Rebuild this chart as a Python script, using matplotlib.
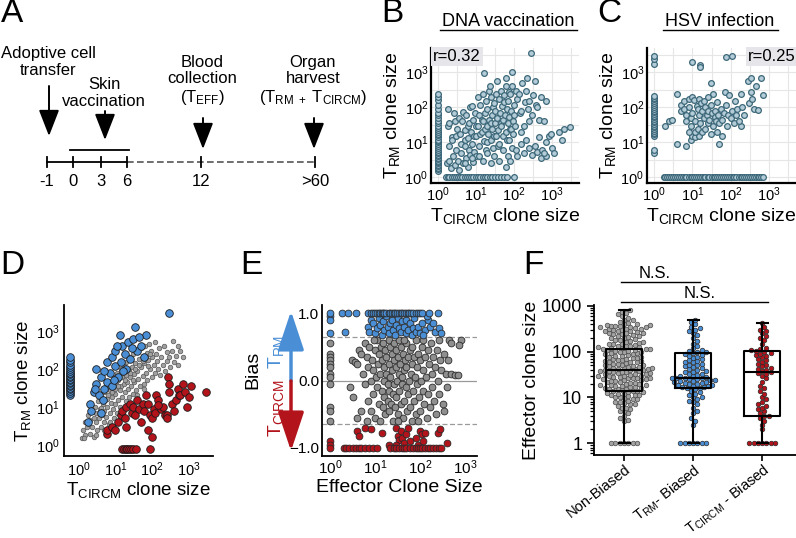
import matplotlib
matplotlib.use('Agg')
import matplotlib.pyplot as plt
import numpy as np
from matplotlib.ticker import FixedLocator, NullFormatter, LogLocator

plt.rcParams['font.family'] = ['Liberation Sans', 'DejaVu Sans']
plt.rcParams['mathtext.fontset'] = 'custom'
plt.rcParams['mathtext.rm'] = 'Liberation Sans'
plt.rcParams['mathtext.it'] = 'Liberation Sans:italic'
plt.rcParams['mathtext.bf'] = 'Liberation Sans:bold'

W, H = 796, 538

# ---------------- data ----------------
# A: timeline
timeline_labels = ['-1', '0', '3', '6', '12', '>60']

# B: DNA vaccination, (T_CIRCM, T_RM) clone sizes
b_pairs = [(1.7,2.5),(1.8,30),(1.9,90),(2,3),(2,8),(2,35),(2.2,1.8),(2.3,14),(2.4,12),(2.5,4),(2.6,70),
           (2.8,2.2),(2.8,40),(3,6),(3,15),(3.2,25),(3.3,3),(3.5,50),(3.6,1.6),(3.8,18),(4,5),(4,9),(4.2,40),
           (4.5,2.6),(4.6,75),(5,8),(5,22),(5.2,12),(5.5,3.5),(5.5,60),(6,2),(6,13),(6.2,30),(6.5,6),(6.5,35),
           (7,4.5),(7,100),(7.5,20),(8,9),(8,110),(8.5,2.8),(8.5,45),(9,5.5),(9,15),(9.5,70),(10,15),(10,4),
           (10,30),(11,30),(11,200),(12,8),(12,60),(13,120),(13,18),(14,20),(14,45),(15,250),(15,40),(16,11),
           (16,950),(17,70),(17,25),(18,6),(18,150),(19,30),(20,90),(20,10),(21,18),(22,45),(22,300),(23,400),
           (24,12),(25,200),(25,35),(26,60),(27,25),(28,7),(28,100),(30,130),(30,15),(31,35),(32,80),(33,250),
           (34,15),(35,580),(36,50),(38,22),(38,8),(40,180),(40,9),(42,70),(44,35),(45,30),(46,300),(48,110),
           (50,15),(52,45),(54,140),(55,220),(58,60),(60,20),(60,400),(62,700),(65,90),(66,12),(68,35),(70,150),
           (72,12),(74,280),(75,55),(78,25),(80,250),(82,25),(85,80),(88,1000),(90,400),(92,18),(95,40),(100,120),
           (100,60),(105,30),(110,300),(120,180),(130,250),(140,70),(150,80),(160,500),(180,30),(190,140),
           (200,300),(220,700),(230,90),(250,150),(280,3600),(300,60),(320,220),(350,580),(380,120),(400,100),
           (450,45),(500,200),(600,40),(700,150),(150,20),(250,40),(5,2.5),(8,3.5),(12,4),(15,3),(20,5),(25,2.5),
           (30,4),(40,3),(50,6),(60,2),(70,4),(80,3),(90,7),(110,6),(120,4),(150,9),(180,5),(200,12),(250,7),
           (300,4.5),(350,8),(400,5.5),(500,3.5),(550,6),(700,10),(800,15),(1000,7),(1100,5),(1500,20),(1800,12),
           (2000,25),(3000,28),(700,4),(450,14),(900,18),(600,5)]
b_col_rm = [1.5,1.7,1.9,2.1,2.3,2.5,2.8,3,3.3,3.7,4,4.5,5,5.5,6,7,8,9,10,11,12,14,16,18,20,23,26,30,35,40,
            50,60,70,90,120,160,200,250]
b_row_circm = [1.6,1.8,2,2.3,2.6,3,3.4,3.8,4.3,5,5.7,6.5,7.5,8.5,10,11.5,13,15,17,20,23,27,32,38,45,55,65,100]
b_r = 'r=0.32'

# C: HSV infection
c_pairs = [(4,9),(7,8),(9,12),(10,15),(50,9),(12,14),(15,15),(2,30),(2.5,40),(3,45),(4,250),(5,120),(5,80),
           (6,150),(6,90),(7,60),(7,40),(8,180),(8,100),(9,50),(9,30),(10,2000),(10,200),(10,70),(11,160),(12,40),
           (12,20),(13,110),(14,25),(14,90),(15,170),(15,60),(16,1600),(16,1400),(16,35),(17,130),(18,20),(18,80),
           (20,150),(20,50),(22,25),(22,100),(24,60),(25,35),(26,80),(28,45),(30,500),(30,120),(32,70),(35,30),
           (35,250),(38,55),(40,80),(42,40),(45,140),(48,60),(50,35),(55,90),(60,45),(65,70),(70,280),(75,2800),
           (75,120),(80,30),(85,60),(90,220),(100,50),(110,3000),(110,80),(120,35),(130,150),(150,90),(180,30),
           (200,100),(220,60),(280,560),(300,130),(330,700),(330,270),(350,180),(400,90),(450,400),(500,85),
           (600,700),(700,220),(180,240),(160,40),(140,60),(25,200),(30,18),(45,20),(8,20),(60,15)]
c_col_rm = [5,6,15,17,19,21,24,27,30,34,38,42,47,52,58,65,72,80,90,100,115,130,150,170,190,210,1800,2500,3000]
c_row_circm = [1.8,2,2.2,2.5,2.8,3.1,3.5,4,4.5,5,5.6,6.3,7,8,9,10,11,12.5,14,16,18,20,22,25,28,32,36,40,45,
               50,56,63,70,80,90,100,112,125,140,160,180,200,225,250,280,320,360,400,450,500,560,630,700]
c_r = 'r=0.25'

# D: clones coloured by bias
d_blue = [(2.5,25),(2,12),(2.2,8),(1.8,4),(3,40),(3.5,20),(4,60),(4.5,15),(3,100),(5,30),(6,150),(6,45),
          (7,80),(8,200),(8,35),(10,120),(10,300),(12,60),(13,800),(14,150),(15,400),(18,250),(20,100),
          (22,500),(25,180),(30,600),(34,1300),(40,300),(50,400),(60,200),(70,800),(300,3000),(4,7),(2.8,30),
          (5,90),(9,50),(11,400),(16,90),(28,350),(45,700)]
d_blue_col = [20,23,26,29,32,35,38,42,46,50,55,60,66,72,80,90,100,115,130,150,175,200]
d_gray = [(1.2,1.5),(1.3,2.5),(1.5,4),(1.5,1.8),(1.7,3),(1.8,6),(2,2),(2,4.5),(2.2,8),(2.3,3),(2.5,5),
          (2.6,1.6),(2.8,10),(3,4),(3,7),(3.2,2.5),(3.4,14),(3.5,5),(3.8,9),(4,3),(4,18),(4.2,6),(4.5,12),
          (4.8,4),(5,8),(5,25),(5.3,15),(5.6,5.5),(6,10),(6,35),(6.3,20),(6.5,3.5),(7,7),(7,28),(7.5,13),
          (8,45),(8,18),(8.5,9),(9,30),(9,5),(9.5,60),(10,12),(10,22),(10.5,40),(11,7),(11,80),(12,15),(12,50),
          (13,28),(13,10),(14,100),(14,35),(15,18),(15,60),(16,9),(17,120),(17,40),(18,25),(19,70),(20,14),
          (20,150),(21,45),(22,30),(23,90),(24,18),(25,200),(25,60),(27,35),(28,110),(30,22),(30,250),(32,75),
          (33,45),(35,140),(36,28),(38,300),(40,90),(42,55),(45,180),(47,35),(50,350),(50,110),(55,65),(58,220),
          (60,40),(62,140),(65,400),(70,80),(72,260),(75,50),(80,170),(85,450),(90,100),(95,300),(100,60),
          (100,200),(110,130),(120,500),(120,80),(130,250),(140,160),(150,100),(160,350),(170,70),(180,200),
          (200,130),(210,400),(230,90),(250,280),(260,160),(300,200),(320,110),(350,300),(400,150),(450,220),
          (500,130),(600,300),(700,200),(370,550),(500,400),(3,1.8),(5,2.5),(7,4),(1.4,1.5),(2,12),(4,9.5),
          (6,16),(8,25),(10,30),(12,35),(18,50),(25,80),(35,100),(45,130),(55,160),(70,200),(80,120),(90,250),
          (40,20),(60,30),(30,50)]
d_red = [(6,2),(100,1.6),(6,2.5),(8,3),(10,2.5),(12,4),(14,6),(15,8),(18,5),(20,3),(20,10),(25,12),(28,7),
         (30,10),(35,6),(40,15),(45,9),(50,4),(55,12),(60,8),(70,20),(80,12),(90,6),(100,5),(110,9),(120,7),
         (130,20),(150,15),(180,9),(200,10),(220,6),(250,6),(280,60),(300,40),(300,25),(350,12),(400,8),
         (450,15),(500,30),(550,20),(600,20),(700,40),(800,25),(900,10),(1000,18),(1200,35),(3000,25),
         (250,5),(150,11),(80,2.5)]
d_red_row = [15,17,19,21,24,27,31,36,90]

# E: bias vs effector clone size
e_blue_top = [1,1.8,2.5,3.8,7,8,9,10,11,12,13,14,15,16,18,20,22,24,26,28,31,34,37,40,44,48,53,58,64,70,80,
              90,100,110,160,250]
e_blue = [(1,0.95),(1,0.9),(1,0.7),(2.2,0.72),(7,0.8),(7.5,0.72),(8,0.9),(9,0.85),(10,0.7),(11,0.78),
          (12,0.92),(13,0.82),(14,0.68),(15,0.88),(16,0.75),(18,0.95),(19,0.8),(20,0.7),(22,0.85),(24,0.9),
          (25,0.75),(28,0.68),(30,0.82),(32,0.93),(35,0.78),(38,0.72),(40,0.88),(45,0.8),(48,0.7),(50,0.9),
          (55,0.75),(60,0.85),(65,0.68),(70,0.78),(75,0.92),(80,0.72),(90,0.8),(100,0.7),(110,0.85),(130,0.75),
          (150,0.9),(170,0.8),(200,0.85),(220,0.72),(260,0.78),(300,0.7),(140,0.95),(120,0.68)]
e_gray = [(1,0.55),(1,0.4),(1,0.35),(1,0.3),(1,0.25),(1,0.2),(1,0.1),(1,0.05),(1,-0.05),(1,-0.4),(1,-0.45),
          (1,-0.6),(3,0.3),(3.5,0.28),(4,0.25),(2.8,-0.1),(3.3,-0.25),(4.5,0.45),(5,0.4),(5.5,0.1),(6,-0.05),
          (6,0.55),(6.5,0.35),(7,0.2),(7,-0.3),(7.5,0.5),(8,0.0),(8,-0.45),(8.5,0.3),(9,0.15),(9,-0.2),
          (10,0.45),(10,-0.55),(10.5,0.05),(11,0.6),(11,-0.1),(11.5,0.25),(12,-0.35),(12,0.4),(13,0.1),
          (13,-0.6),(13.5,0.5),(14,-0.15),(14,0.3),(15,0.55),(15,-0.4),(15.5,0.0),(16,0.2),(16,-0.25),
          (17,0.45),(17,-0.5),(18,0.1),(18,0.35),(19,-0.05),(19,-0.3),(20,0.6),(20,0.25),(21,-0.15),(21,-0.45),
          (22,0.5),(22,0.05),(23,-0.35),(24,0.4),(24,0.15),(25,-0.2),(25,-0.6),(26,0.3),(27,0.55),(27,-0.05),
          (28,-0.4),(29,0.2),(30,0.45),(30,-0.25),(31,0.0),(32,0.35),(33,-0.5),(34,0.1),(35,0.6),(35,-0.15),
          (36,0.25),(38,-0.35),(38,0.5),(40,0.05),(40,-0.05),(42,0.4),(42,-0.55),(44,0.15),(45,-0.3),(46,0.3),
          (48,-0.1),(50,0.55),(50,0.2),(52,-0.45),(55,0.35),(55,-0.2),(58,0.0),(60,0.45),(60,-0.4),(62,0.1),
          (65,-0.6),(65,0.25),(68,0.5),(70,-0.15),(72,0.35),(75,-0.3),(78,0.05),(80,0.6),(80,-0.5),(85,0.2),
          (88,-0.05),(90,0.4),(95,-0.25),(100,0.3),(100,-0.45),(105,0.0),(110,0.5),(115,-0.15),(120,0.15),
          (125,-0.35),(130,0.35),(135,0.05),(140,-0.55),(150,0.45),(155,-0.2),(160,0.25),(170,-0.4),(180,0.55),
          (185,0.1),(190,-0.1),(200,0.35),(210,-0.3),(220,0.2),(230,-0.5),(240,0.45),(250,0.0),(260,-0.2),
          (280,0.3),(300,0.15),(320,-0.35),(350,0.4),(380,0.1),(400,-0.1),(420,0.3),(450,0.6),(480,0.55),
          (500,0.1),(600,0.08),(700,0.08),(350,-0.45),(260,0.6),(5,-0.45),(4,-0.55),(6.5,-0.6),(9.5,0.6),
          (32,-0.6),(45,0.6),(120,0.6),(90,-0.6),(800,0.6),(750,0.52)]
e_red_bottom = [1,2,2.3,2.7,3.2,3.7,4.3,5,6,7.5,9,11,22,26,30,35,40,45,50,60,70,80,90,100,110,130,150,170,
                200,230,260,300]
e_red = [(1,-0.9),(1,-0.95),(4,-0.75),(4.5,-0.82),(6,-0.7),(8,-0.72),(14,-0.78),(30,-0.7),(32,-0.82),
         (35,-0.88),(38,-0.75),(40,-0.85),(45,-0.92),(50,-0.8),(55,-0.7),(60,-0.9),(80,-0.85),(90,-0.95),
         (100,-0.75),(110,-0.8),(120,-0.9),(130,-0.78),(250,-0.78),(280,-0.72),(400,-0.92),(30,-0.95),(20,-0.95)]

# F: effector clone size by bias group
f_groups = ['Non-Biased', r'T$_{\mathrm{RM}}$- Biased', r'T$_{\mathrm{CIRCM}}$ - Biased']
f_nonbiased = [1]*7 + [3,3.2,3.5,4,4.5,5,5,5.5,6,6,6.5,7,7,7.5,8,8,8.5,9,9,9.5,10,10,10.5,11,11,11.5,12,12,
               12.5,13,13,13.5,14,14,14.5,15,15,15.5,16,16,17,17,18,18,18.5,19,19,20,20,21,21,22,22,23,23,24,
               24,25,25,26,26,27,27,28,28,29,29,30,30,31,32,32,33,34,34,35,36,36,37,38,38,39,40,40,41,42,42,
               43,44,45,46,47,48,49,50,50,52,53,55,56,58,59,60,62,63,65,67,68,70,72,74,76,78,80,82,85,87,90,
               92,95,98,100,100,105,108,110,112,115,118,120,125,130,135,140,145,150,155,160,170,180,190,200,
               210,220,230,240,250,260,270,280,290,300,310,320,330,340,350,360,370,380,400,420,450,480,500,
               550,600,650,700,750,800,
               105,115,125,135,150,165,180,200,220,240,260,280,300,320,340,360,380,400]
f_rm = [1]*7 + [2.5,3,3.5,4.5,5,6,7,8,8.5,9,10,10,11,12,13,14,15,16,16,17,17,18,18,19,19,20,20,21,21,22,22,
                23,23,24,24,25,25,26,26,27,27,28,29,30,31,32,33,35,36,38,40,42,44,46,48,50,52,55,58,60,63,66,
                70,74,78,82,86,90,95,100,100,105,110,120,130,150,170,200,230,250,280,300,330,350,400,450,500]
f_circm = [1]*7 + [2,2.5,3,3.5,4,4,4.5,5,5.5,6,6.5,7,8,9,10,12,14,16,18,22,26,30,32,34,36,38,40,42,45,48,50,
                   55,60,65,70,75,80,85,90,95,100,105,110,115,120,150,180,200,220,250,280,300,350,420]
# box stats: whisker low, q1, median, q3, whisker high
f_box_lo = [1, 1, 1]
f_box_q1 = [14, 16, 4]
f_box_med = [40, 27, 35]
f_box_q3 = [115, 92, 105]
f_box_hi = [800, 500, 420]

BLUE = '#4a8fd6'
RED = '#b3131b'
GRAY = '#8f8f8f'
TEAL_E = '#3d6879'
TEAL_F = '#b3ccd7'

fig = plt.figure(figsize=(W / 100, H / 100), dpi=100)

# overlay in pixel coordinates for the schematic and annotations
ov = fig.add_axes([0, 0, 1, 1])
ov.set_xlim(0, W)
ov.set_ylim(H, 0)
ov.axis('off')


def px_axes(l, t, r, b):
    return fig.add_axes([l / W, 1 - b / H, (r - l) / W, (b - t) / H])


def style_spines(ax, lw=1.5):
    for s in ['top', 'right']:
        ax.spines[s].set_visible(False)
    for s in ['left', 'bottom']:
        ax.spines[s].set_linewidth(lw)
        ax.spines[s].set_color('black')


# ---------------- A ----------------
tl_x = [47, 73, 101, 127, 201, 315]
ov.plot([tl_x[0], tl_x[3]], [162, 162], color='k', lw=1.3)
ov.plot([tl_x[3], tl_x[5]], [162, 162], color='#555555', lw=1.2, ls=(0, (4, 2)))
for x, lab in zip(tl_x, timeline_labels):
    ov.plot([x, x], [157, 167], color='k', lw=1.3)
    ov.text(x, 182, lab, ha='center', va='center', fontsize=12)
ov.plot([70, 129], [150, 150], color='k', lw=1.3)

events = [(48, 'Adoptive cell\ntransfer', 62, 86, 136),
          (104, 'Skin\nvaccination', 93, 111, 140),
          (202, 'Blood\ncollection\n(T$_{\\mathrm{EFF}}$)', 81, 118, 149),
          (313, 'Organ\nharvest\n(T$_{\\mathrm{RM\\ +}}$ T$_{\\mathrm{CIRCM}}$)', 81, 118, 149)]
for x, txt, ty, y0, y1 in events:
    ov.text(x, ty, txt, ha='center', va='center', fontsize=12, linespacing=1.15)
    ov.annotate('', xy=(x + 1, y1), xytext=(x + 1, y0),
                arrowprops=dict(arrowstyle='-|>,head_width=0.35,head_length=0.9', color='k', lw=1.4,
                                mutation_scale=18, shrinkA=0, shrinkB=0))

# panel letters
for x, y, l in [(12, 14, 'A'), (392, 14, 'B'), (609, 14, 'C'), (12, 265, 'D'), (251, 265, 'E'), (533, 265, 'F')]:
    ov.text(x, y, l, ha='center', va='center', fontsize=24)

# underlined titles
ov.text(508, 21, 'DNA vaccination', ha='center', va='center', fontsize=13)
ov.plot([440, 577], [30, 30], color='k', lw=1)
ov.text(720, 21, 'HSV infection', ha='center', va='center', fontsize=13)
ov.plot([663, 778], [30, 30], color='k', lw=1)


# ---------------- B, C ----------------
def clone_panel(ax, pairs, col_y, row_x, r_text, r_right):
    x, y = np.array(pairs).T
    kw = dict(s=17, facecolor=TEAL_F, edgecolor=TEAL_E, linewidths=0.9, zorder=3)
    ax.scatter(x, y, **kw)
    ax.scatter(np.ones(len(col_y)), col_y, **kw)
    ax.scatter(row_x, np.ones(len(row_x)), **kw)
    ax.set_xscale('log')
    ax.set_yscale('log')
    ax.set_xlim(10 ** -0.18, 10 ** 3.7)
    ax.set_ylim(10 ** -0.16, 10 ** 3.7)
    ax.set_xticks([1, 10, 100, 1000])
    ax.set_yticks([1, 10, 100, 1000])
    half = [10 ** (k + 0.5) for k in range(-1, 4)]
    ax.xaxis.set_minor_locator(FixedLocator(half))
    ax.yaxis.set_minor_locator(FixedLocator(half))
    ax.xaxis.set_minor_formatter(NullFormatter())
    ax.yaxis.set_minor_formatter(NullFormatter())
    ax.grid(which='both', color='#e6e6e6', lw=0.8)
    ax.set_axisbelow(True)
    style_spines(ax, 1.6)
    ax.tick_params(which='both', length=0, labelsize=10.5, pad=2)
    ax.set_ylabel(r'T$_{\mathrm{RM}}$ clone size', fontsize=14, labelpad=2)
    ax.set_xlabel(r'T$_{\mathrm{CIRCM}}$ clone size', fontsize=14, labelpad=1)
    if r_right:
        ax.text(0.995, 0.995, r_text, transform=ax.transAxes, ha='right', va='top', fontsize=12, zorder=5,
                bbox=dict(facecolor='#e5e5ea', edgecolor='none', pad=1.5))
    else:
        ax.text(0.012, 0.995, r_text, transform=ax.transAxes, ha='left', va='top', fontsize=12, zorder=5,
                bbox=dict(facecolor='#e5e5ea', edgecolor='none', pad=1.5))


axB = px_axes(431, 48, 579, 183)
clone_panel(axB, b_pairs, b_col_rm, b_row_circm, b_r, False)
axC = px_axes(647, 48, 796, 183)
clone_panel(axC, c_pairs, c_col_rm, c_row_circm, c_r, True)

# ---------------- D ----------------
axD = px_axes(64, 305, 213, 456)
gx, gy = np.array(d_gray).T
axD.scatter(gx, gy, s=11, facecolor='#a0a0a0', edgecolor='#555555', linewidths=0.5, zorder=2)
bx, by = np.array(d_blue).T
bkw = dict(s=30, facecolor=BLUE, edgecolor='#1a1a1a', linewidths=0.6, zorder=3)
axD.scatter(bx, by, **bkw)
axD.scatter(np.full(len(d_blue_col), 0.56), d_blue_col, **bkw)
rx, ry = np.array(d_red).T
rkw = dict(s=30, facecolor=RED, edgecolor='#1a1a1a', linewidths=0.6, zorder=3)
axD.scatter(rx, ry, **rkw)
axD.scatter(d_red_row, np.full(len(d_red_row), 0.8), **rkw)
axD.set_xscale('log')
axD.set_yscale('log')
axD.set_xlim(10 ** -0.41, 10 ** 3.67)
axD.set_ylim(10 ** -0.29, 10 ** 3.68)
axD.set_xticks([1, 10, 100, 1000])
axD.set_yticks([1, 10, 100, 1000])
axD.minorticks_off()
style_spines(axD, 1.3)
axD.tick_params(length=0, labelsize=10.5, pad=3)
axD.set_ylabel(r'T$_{\mathrm{RM}}$ clone size', fontsize=13.5, labelpad=2)
axD.set_xlabel(r'T$_{\mathrm{CIRCM}}$ clone size', fontsize=13.5, labelpad=1)

# ---------------- E ----------------
axE = px_axes(322, 305, 477, 456)
axE.axhline(0, color='#9a9a9a', lw=0.9, zorder=1)
axE.axhline(0.65, color='#9a9a9a', lw=0.9, ls=(0, (4, 2)), zorder=1)
axE.axhline(-0.65, color='#9a9a9a', lw=0.9, ls=(0, (4, 2)), zorder=1)
ekw = dict(s=24, edgecolor='#2a2a2a', linewidths=0.6, zorder=3)
gx, gy = np.array(e_gray).T
axE.scatter(gx, gy, facecolor=GRAY, **ekw)
bx, by = np.array(e_blue).T
axE.scatter(bx, by, facecolor=BLUE, **ekw)
axE.scatter(e_blue_top, np.ones(len(e_blue_top)), facecolor=BLUE, **ekw)
rx, ry = np.array(e_red).T
axE.scatter(rx, ry, facecolor=RED, **ekw)
axE.scatter(e_red_bottom, -np.ones(len(e_red_bottom)), facecolor=RED, **ekw)
axE.set_xscale('log')
axE.set_xlim(10 ** -0.18, 10 ** 3.27)
axE.set_ylim(-1.12, 1.12)
axE.set_xticks([1, 10, 100, 1000])
axE.minorticks_off()
axE.set_yticks([-1, 0, 1])
axE.set_yticklabels(['\u22121.0', '0.0', '1.0'])
style_spines(axE, 1.3)
axE.tick_params(length=0, labelsize=11, pad=2)
axE.set_xlabel('Effector Clone Size', fontsize=14, labelpad=1)

# bias arrows
ov.annotate('', xy=(291, 311), xytext=(291, 381),
            arrowprops=dict(arrowstyle='-|>,head_width=0.4,head_length=1.2', color=BLUE, lw=2.5,
                            mutation_scale=20, shrinkA=0, shrinkB=0))
ov.annotate('', xy=(291, 451), xytext=(291, 381),
            arrowprops=dict(arrowstyle='-|>,head_width=0.4,head_length=1.2', color=RED, lw=2.5,
                            mutation_scale=20, shrinkA=0, shrinkB=0))
ov.text(276, 352, r'T$_{\mathrm{RM}}$', rotation=90, color=BLUE, fontsize=14, ha='center', va='center')
ov.text(276, 408, r'T$_{\mathrm{CIRCM}}$', rotation=90, color=RED, fontsize=14, ha='center', va='center')
ov.text(253, 370, 'Bias', rotation=90, fontsize=14, ha='center', va='center')

# ---------------- F ----------------
axF = px_axes(594, 305, 796, 455)
axF.set_yscale('log')
axF.set_xlim(-0.435, 2.49)
axF.set_ylim(10 ** -0.26, 10 ** 3.02)


def swarm_x(ax, xc, vals, d):
    pts = ax.transData.transform(np.column_stack([np.full(len(vals), xc), vals]))
    ys = pts[:, 1]
    order = np.argsort(ys)
    placed = []
    offs = np.zeros(len(vals))
    for i in order:
        y = ys[i]
        near = [(px, py) for px, py in placed if abs(y - py) < d]
        k = 0
        while True:
            cands = [0.0] if k == 0 else [k * d * 0.5, -k * d * 0.5]
            found = None
            for ox in cands:
                if all((ox - px) ** 2 + (y - py) ** 2 >= (d * 0.95) ** 2 for px, py in near):
                    found = ox
                    break
            if found is not None:
                break
            k += 1
        placed.append((found, y))
        offs[i] = found
    ppu = ax.transData.transform([[1, 1]])[0, 0] - ax.transData.transform([[0, 1]])[0, 0]
    return xc + offs / ppu


fcols = [('#a3a3a3', '#4a4a4a'), (BLUE, '#2a2a2a'), (RED, '#2a2a2a')]
for i, vals in enumerate([f_nonbiased, f_rm, f_circm]):
    xs = swarm_x(axF, i, vals, 4.3)
    axF.scatter(xs, vals, s=11, facecolor=fcols[i][0], edgecolor=fcols[i][1], linewidths=0.5, zorder=2)

stats = [dict(whislo=f_box_lo[i], q1=f_box_q1[i], med=f_box_med[i], q3=f_box_q3[i], whishi=f_box_hi[i],
              fliers=[]) for i in range(3)]
lp = dict(color='black', lw=1.5)
axF.bxp(stats, positions=[0, 1, 2], widths=0.52, capwidths=0.16, showfliers=False,
        boxprops=lp, medianprops=lp, whiskerprops=lp, capprops=lp, zorder=4)
axF.set_xlim(-0.435, 2.49)
axF.set_xticks([0, 1, 2])
axF.set_xticklabels(f_groups, rotation=38, ha='right', rotation_mode='anchor', fontsize=10.5)
axF.set_yticks([1, 10, 100, 1000])
axF.set_yticklabels(['1', '10', '100', '1000'])
axF.yaxis.set_minor_locator(LogLocator(base=10, subs=np.arange(2, 10)))
axF.yaxis.set_minor_formatter(NullFormatter())
style_spines(axF, 1.3)
axF.tick_params(axis='y', which='major', length=5, width=1.2, labelsize=13)
axF.tick_params(axis='y', which='minor', length=3, width=0.9)
axF.tick_params(axis='x', length=4, width=1.2, pad=1)
axF.set_ylabel('Effector clone size', fontsize=14, labelpad=1)

# significance brackets
ov.plot([621, 700], [282, 282], color='k', lw=1)
ov.text(655, 273, 'N.S.', ha='center', va='center', fontsize=12)
ov.plot([621, 768], [302, 302], color='k', lw=1)
ov.text(700, 293, 'N.S.', ha='center', va='center', fontsize=12)

fig.savefig('out.png', dpi=100)
